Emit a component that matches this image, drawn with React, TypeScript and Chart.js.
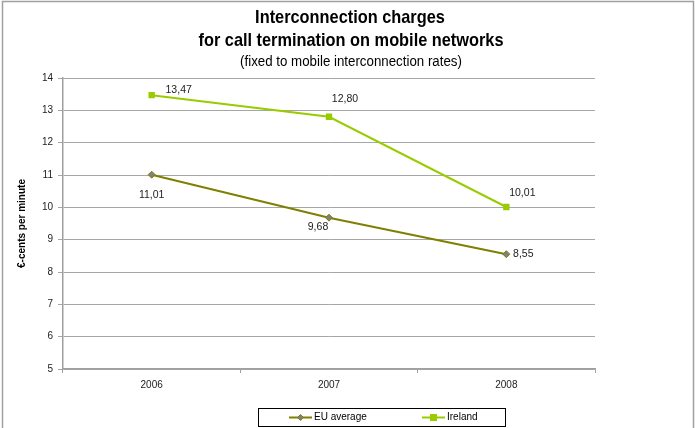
import React, { useEffect, useRef } from "react";
import { Chart, registerables } from "chart.js";

Chart.register(...registerables);

const categories = ["2006", "2007", "2008"];
const euAverage = [11.01, 9.68, 8.55];
const ireland = [13.47, 12.8, 10.01];
const yTicks = [5, 6, 7, 8, 9, 10, 11, 12, 13, 14];
const titleLines = ["Interconnection charges", "for call termination on mobile networks"];
const subtitle = "(fixed to mobile interconnection rates)";
const yTitle = "€-cents per minute";

const FONT = "'Liberation Sans', Arial, sans-serif";

const fmt = (v: number) => v.toFixed(2).replace(".", ",");

// label offsets (dx, dy) relative to points, per dataset
const labelOffsets = [
  [[0, 20], [-11, 9], [17, 0]],
  [[27, -5], [16, -18], [16, -14]],
];

function condensedText(ctx: CanvasRenderingContext2D, text: string, cx: number, cy: number, sx: number) {
  ctx.save();
  ctx.translate(cx, cy);
  ctx.scale(sx, 1);
  ctx.fillText(text, 0, 0);
  ctx.restore();
}

const decorPlugin = {
  id: "decor",
  afterDraw(chart: any) {
    const ctx = chart.ctx as CanvasRenderingContext2D;
    ctx.save();
    // outer frame
    ctx.strokeStyle = "#a0a0a0";
    ctx.lineWidth = 1.5;
    ctx.strokeRect(2.5, 1.5, 691, 460);
    // titles
    ctx.fillStyle = "#000";
    ctx.textAlign = "center";
    ctx.textBaseline = "middle";
    ctx.font = `bold 19px ${FONT}`;
    condensedText(ctx, titleLines[0], 350, 18, 0.86);
    condensedText(ctx, titleLines[1], 351, 41, 0.86);
    ctx.font = `14px ${FONT}`;
    condensedText(ctx, subtitle, 351, 62, 0.95);

    // data labels
    ctx.font = `10.5px ${FONT}`;
    ctx.fillStyle = "#222";
    chart.data.datasets.forEach((ds: any, di: number) => {
      const meta = chart.getDatasetMeta(di);
      meta.data.forEach((pt: any, i: number) => {
        const [dx, dy] = labelOffsets[di][i];
        ctx.textAlign = "center";
        ctx.fillText(fmt(ds.data[i]), pt.x + dx, pt.y + dy);
      });
    });

    // legend
    ctx.strokeStyle = "#000";
    ctx.lineWidth = 1;
    ctx.strokeRect(258.5, 408.5, 247, 18);
    const items = [
      { x: 289, ds: chart.data.datasets[0] },
      { x: 422, ds: chart.data.datasets[1] },
    ];
    items.forEach(({ x, ds }) => {
      const cy = 417.5;
      ctx.strokeStyle = ds.borderColor;
      ctx.lineWidth = 2;
      ctx.beginPath();
      ctx.moveTo(x, cy);
      ctx.lineTo(x + 23, cy);
      ctx.stroke();
      const mx = x + 11.5;
      ctx.fillStyle = ds.pointBackgroundColor;
      if (ds.pointStyle === "rect") {
        ctx.fillRect(mx - 3.5, cy - 3.5, 7, 7);
      } else {
        ctx.beginPath();
        ctx.moveTo(mx, cy - 3);
        ctx.lineTo(mx + 3, cy);
        ctx.lineTo(mx, cy + 3);
        ctx.lineTo(mx - 3, cy);
        ctx.closePath();
        ctx.fill();
        ctx.strokeStyle = ds.pointBorderColor;
        ctx.lineWidth = 1;
        ctx.stroke();
      }
      ctx.fillStyle = "#000";
      ctx.textAlign = "left";
      ctx.font = `10px ${FONT}`;
      ctx.fillText(ds.label, x + 25, cy);
    });
    ctx.restore();
  },
};

export default function App() {
  const ref = useRef<HTMLCanvasElement>(null);
  useEffect(() => {
    document.body.style.margin = "0";
    const chart = new Chart(ref.current!, {
      type: "line",
      data: {
        labels: categories,
        datasets: [
          {
            label: "EU average",
            data: euAverage,
            borderColor: "#7f7f00",
            borderWidth: 2,
            pointStyle: "rectRot",
            pointRadius: 3.5,
            pointBackgroundColor: "#808080",
            pointBorderColor: "#7f7f00",
            pointBorderWidth: 1,
          },
          {
            label: "Ireland",
            data: ireland,
            borderColor: "#99cc00",
            borderWidth: 2,
            pointStyle: "rect",
            pointRadius: 4.5,
            pointBackgroundColor: "#99cc00",
            pointBorderColor: "#99cc00",
            pointBorderWidth: 0,
          },
        ],
      },
      options: {
        responsive: false,
        animation: false,
        layout: { padding: { left: 0, top: 78, right: 100, bottom: 0 } },
        plugins: {
          legend: { display: false },
          title: { display: false },
          tooltip: { enabled: false },
        },
        scales: {
          x: {
            type: "category",
            offset: true,
            afterFit: (s: any) => { s.height = 59; },
            grid: {
              offset: true,
              drawOnChartArea: false,
              drawTicks: true,
              tickLength: 4,
              color: "#a0a0a0",
            },
            border: { color: "#a0a0a0", width: 1.5 },
            ticks: { color: "#222", font: { family: FONT, size: 10 }, padding: 6 },
          },
          y: {
            min: 5,
            max: 14,
            afterFit: (s: any) => { s.width = 63; },
            afterBuildTicks: (s: any) => { s.ticks = yTicks.map((v) => ({ value: v })); },
            grid: { color: "#a6a6a6", lineWidth: 1, tickLength: 5 },
            border: { color: "#a0a0a0", width: 1.5 },
            ticks: { color: "#222", font: { family: FONT, size: 10 }, padding: 5 },
            title: {
              display: true,
              text: yTitle,
              color: "#000",
              font: { family: FONT, size: 10, weight: "bold" },
              padding: { top: 16, bottom: 0 },
            },
          },
        },
      },
      plugins: [decorPlugin],
    });
    return () => chart.destroy();
  }, []);
  return (
    <div style={{ position: "absolute", left: 0, top: 0, width: 695, height: 428, background: "#fff" }}>
      <canvas ref={ref} width={695} height={428} />
    </div>
  );
}
